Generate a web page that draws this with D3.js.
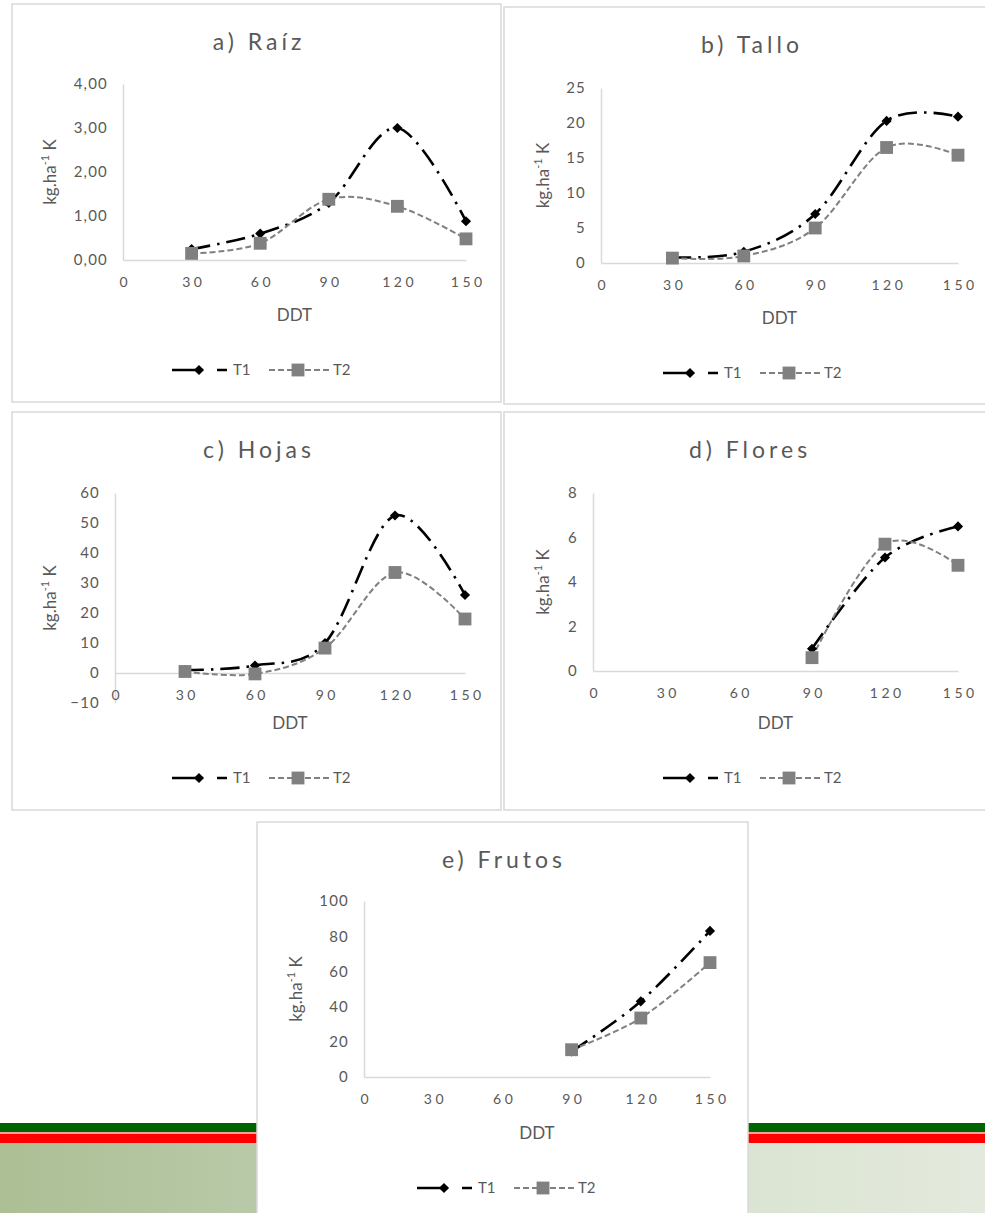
<!DOCTYPE html>
<html><head><meta charset="utf-8">
<script src="https://cdn.jsdelivr.net/npm/d3@7"></script>
<style>
html,body{margin:0;padding:0;background:#fff;}
svg{display:block;}
text{font-family:Lato,"Open Sans",sans-serif;}
</style></head><body>
<svg id="chart" width="985" height="1213"></svg>
<script>
// ---------- data ----------
const ddt = [30, 60, 90, 120, 150];
const ddtLate = [90, 120, 150];
const xTickValues = [0, 30, 60, 90, 120, 150];
const seriesNames = ["T1", "T2"];
const raizT1 = [0.25, 0.6, 1.3, 3.0, 0.88];
const raizT2 = [0.15, 0.38, 1.38, 1.22, 0.48];
const talloT1 = [0.8, 1.6, 7.0, 20.3, 20.9];
const talloT2 = [0.7, 1.0, 5.0, 16.5, 15.4];
const hojasT1 = [1.0, 2.5, 10.0, 52.5, 26.0];
const hojasT2 = [0.5, -0.3, 8.3, 33.5, 18.0];
const floresT1 = [1.0, 5.1, 6.5];
const floresT2 = [0.6, 5.7, 4.75];
const frutosT1 = [14.5, 43, 83];
const frutosT2 = [15.5, 33.5, 65];
const raizTicks = [0, 1, 2, 3, 4];
const talloTicks = [0, 5, 10, 15, 20, 25];
const hojasTicks = [-10, 0, 10, 20, 30, 40, 50, 60];
const floresTicks = [0, 2, 4, 6, 8];
const frutosTicks = [0, 20, 40, 60, 80, 100];
const titles = ["a) Raíz", "b) Tallo", "c) Hojas", "d) Flores", "e) Frutos"];
const xAxisTitle = "DDT";

// ---------- layout ----------
const commaFmt = d => d3.format(".2f")(d).replace(".", ",");
const intFmt = d3.format("d");
const panels = [
  {title: titles[0], x: ddt, t1: raizT1, t2: raizT2, ticks: raizTicks, fmt: commaFmt,
   box: [12, 4, 489, 398], plot: [123, 466, 84, 260], titleX: 257, yLabX: 52, legX: 172},
  {title: titles[1], x: ddt, t1: talloT1, t2: talloT2, ticks: talloTicks, fmt: intFmt,
   box: [504, 7, 495, 397], plot: [601, 958, 88, 263], titleX: 750, yLabX: 545, legX: 663},
  {title: titles[2], x: ddt, t1: hojasT1, t2: hojasT2, ticks: hojasTicks, fmt: intFmt,
   box: [12, 412, 489, 398], plot: [115, 465, 493, 703], titleX: 257, yLabX: 52, legX: 172},
  {title: titles[3], x: ddtLate, t1: floresT1, t2: floresT2, ticks: floresTicks, fmt: intFmt,
   box: [504, 412, 495, 398], plot: [593, 958, 493, 671], titleX: 748, yLabX: 545, legX: 663},
  {title: titles[4], x: ddtLate, t1: frutosT1, t2: frutosT2, ticks: frutosTicks, fmt: intFmt,
   box: [257, 822, 491, 420], plot: [364, 710, 901, 1077], titleX: 502, yLabX: 298, legX: 417}
];

const TXT = "#595959", AXIS = "#d9d9d9", BORDER = "#d9d9d9";
const T1C = "#000000", T2C = "#808080";
const T1DASH = "19,7,2.5,7", T2DASH = "6,3";

const svg = d3.select("#chart");
const defs = svg.append("defs");
const grad = defs.append("linearGradient").attr("id", "bandGrad").attr("x1", "0").attr("x2", "1").attr("y1", "0").attr("y2", "0");
[[0, "#acbf94"], [0.3, "#bacbab"], [0.75, "#dbe4d2"], [1, "#e3e9dc"]].forEach(s =>
  grad.append("stop").attr("offset", s[0]).attr("stop-color", s[1]));

// background band
svg.append("rect").attr("x", 0).attr("y", 1123).attr("width", 985).attr("height", 9).attr("fill", "#006400");
svg.append("rect").attr("x", 0).attr("y", 1132).attr("width", 985).attr("height", 2).attr("fill", "#f2a0a0");
svg.append("rect").attr("x", 0).attr("y", 1134).attr("width", 985).attr("height", 9).attr("fill", "#ff0000");
svg.append("rect").attr("x", 0).attr("y", 1143).attr("width", 985).attr("height", 70).attr("fill", "url(#bandGrad)");

const diamondSym = d3.symbol().type(d3.symbolDiamond2 || d3.symbolDiamond).size(d3.symbolDiamond2 ? 66 : 54);
const squareSym = d3.symbol().type(d3.symbolSquare).size(165);

panels.forEach(p => {
  const g = svg.append("g");
  const [bx, by, bw, bh] = p.box;
  const [L, R, T, B] = p.plot;
  g.append("rect").attr("x", bx).attr("y", by).attr("width", bw).attr("height", bh)
    .attr("fill", "#fff").attr("stroke", BORDER).attr("stroke-width", 1.5);

  const ext = d3.extent(p.ticks);
  const x = d3.scaleLinear().domain([0, 150]).range([L, R]);
  const y = d3.scaleLinear().domain(ext).range([B, T]);

  // title
  g.append("text").attr("x", p.titleX + 2).attr("y", by + 46).attr("text-anchor", "middle")
    .attr("fill", TXT).style("font-size", "23px").style("letter-spacing", "4px").text(p.title);

  // y axis
  const ya = g.append("g").attr("transform", `translate(${L},0)`)
    .call(d3.axisLeft(y).tickValues(p.ticks).tickFormat(p.fmt).tickSize(0).tickPadding(15));
  ya.select(".domain").attr("stroke", AXIS).attr("stroke-width", 1.5);
  ya.selectAll("text").attr("fill", TXT).style("font-size", "15px").style("letter-spacing", "1.2px")
    .style("font-family", "Lato, 'Open Sans', sans-serif");

  // x axis at 0
  const xa = g.append("g").attr("transform", `translate(0,${y(0)})`)
    .call(d3.axisBottom(x).tickValues(xTickValues).tickFormat(intFmt).tickSize(0).tickPadding(17));
  xa.select(".domain").attr("stroke", AXIS).attr("stroke-width", 1.5);
  xa.selectAll("text").attr("fill", TXT).style("font-size", "14px").style("letter-spacing", "3.5px")
    .attr("dx", "1.75px").style("font-family", "Lato, 'Open Sans', sans-serif");

  // lines
  const line = d3.line().x(d => x(d[0])).y(d => y(d[1])).curve(d3.curveCatmullRom.alpha(0));
  const d1 = p.x.map((v, i) => [v, p.t1[i]]);
  const d2 = p.x.map((v, i) => [v, p.t2[i]]);
  g.append("path").attr("d", line(d1)).attr("fill", "none").attr("stroke", T1C)
    .attr("stroke-width", 2.6).attr("stroke-dasharray", T1DASH);
  g.append("path").attr("d", line(d2)).attr("fill", "none").attr("stroke", T2C)
    .attr("stroke-width", 2).attr("stroke-dasharray", T2DASH);
  g.selectAll(".m1").data(d1).join("path").attr("class", "m1")
    .attr("transform", d => `translate(${x(d[0])},${y(d[1])})`).attr("d", diamondSym).attr("fill", T1C);
  g.selectAll(".m2").data(d2).join("path").attr("class", "m2")
    .attr("transform", d => `translate(${x(d[0])},${y(d[1])})`).attr("d", squareSym).attr("fill", T2C);

  // axis titles
  g.append("text").attr("x", (L + R) / 2).attr("y", by + 317).attr("text-anchor", "middle")
    .attr("fill", TXT).style("font-size", "17px").text(xAxisTitle);
  const yl = g.append("text").attr("transform", `translate(${p.yLabX},${(T + B) / 2}) rotate(-90)`)
    .attr("text-anchor", "middle").attr("dominant-baseline", "middle").attr("fill", TXT).style("font-size", "17px");
  yl.append("tspan").text("kg.ha");
  yl.append("tspan").attr("dy", "-6").style("font-size", "11px").text("-1");
  yl.append("tspan").attr("dy", "6").text(" K");

  // legend
  const ly = by + 366, lx = p.legX;
  g.append("line").attr("x1", lx).attr("x2", lx + 55).attr("y1", ly).attr("y2", ly)
    .attr("stroke", T1C).attr("stroke-width", 2.6).attr("stroke-dasharray", "25,20,10");
  g.append("path").attr("transform", `translate(${lx + 27},${ly})`).attr("d", diamondSym).attr("fill", T1C);
  g.append("text").attr("x", lx + 61).attr("y", ly + 5).attr("fill", TXT).style("font-size", "15px").text(seriesNames[0]);
  g.append("line").attr("x1", lx + 97).attr("x2", lx + 158).attr("y1", ly).attr("y2", ly)
    .attr("stroke", T2C).attr("stroke-width", 2).attr("stroke-dasharray", T2DASH);
  g.append("path").attr("transform", `translate(${lx + 126},${ly})`).attr("d", squareSym).attr("fill", T2C);
  g.append("text").attr("x", lx + 161).attr("y", ly + 5).attr("fill", TXT).style("font-size", "15px").text(seriesNames[1]);
});
</script>
</body></html>
